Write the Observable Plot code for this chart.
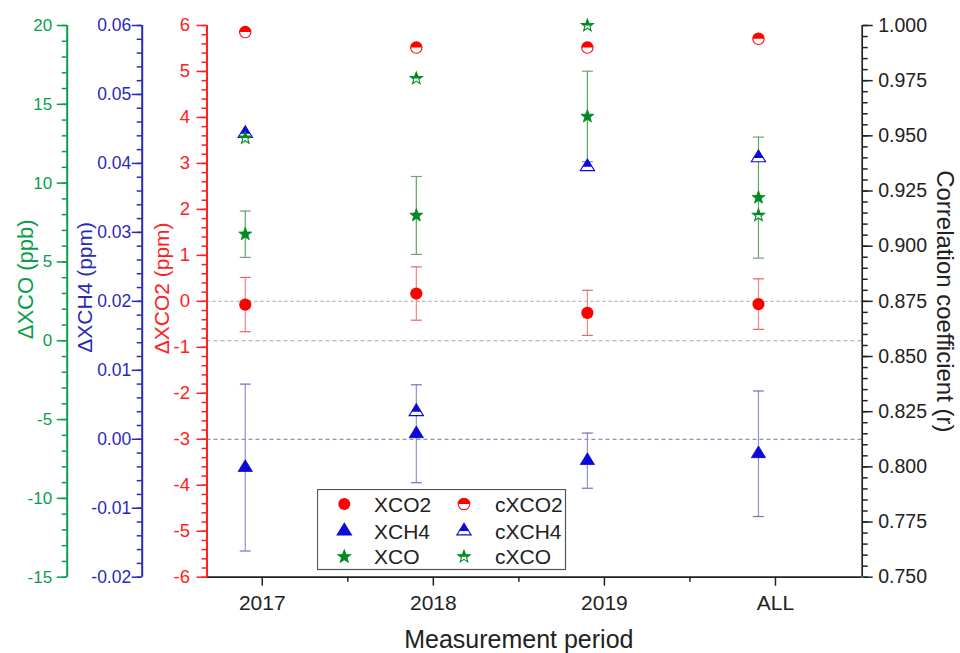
<!DOCTYPE html>
<html><head><meta charset="utf-8">
<script src="https://cdn.jsdelivr.net/npm/d3@7"></script>
<script src="https://cdn.jsdelivr.net/npm/@observablehq/plot@0.6"></script>
<style>
body{margin:0;background:#fff;}
#wrap{position:relative;width:960px;height:653px;font-family:'Liberation Sans',Arial,sans-serif;}
</style></head><body><div id="wrap"></div>
<script>
// ---------- data ----------
const periods = ["2017", "2018", "2019", "ALL"];
const xco2    = [-0.07, 0.17, -0.25, -0.06];      // ΔXCO2 (ppm)
const xco2Err = [0.59, 0.58, 0.49, 0.55];
const xch4    = [-0.0041, 0.0008, -0.0031, -0.0021]; // ΔXCH4 (ppm)
const xch4Err = [0.0121, 0.0071, 0.0040, 0.0091];
const xco     = [6.76, 7.95, 14.23, 9.08];        // ΔXCO (ppb)
const xcoErr  = [1.47, 2.47, 2.87, 3.84];
const rXco2   = [0.997, 0.990, 0.990, 0.994];     // correlation coefficient
const rXch4   = [0.951, 0.825, 0.936, 0.940];
const rXco    = [0.949, 0.976, 1.000, 0.914];

const co2Domain = [-6, 6];
const ch4Domain = [-0.02, 0.06];
const coDomain  = [-15, 20];
const rDomain   = [0.75, 1.0];
const co2Ticks = [-6,-5,-4,-3,-2,-1,0,1,2,3,4,5,6];
const ch4Ticks = [-0.02,-0.01,0,0.01,0.02,0.03,0.04,0.05,0.06];
const coTicks  = [-15,-10,-5,0,5,10,15,20];
const rTicks   = [0.75,0.775,0.8,0.825,0.85,0.875,0.9,0.925,0.95,0.975,1.0];

// ---------- styles ----------
const RED = "#ff2020", BLUE = "#2a2ab8", GREEN = "#0a9e4c", DARK = "#222";
const mRed = "#ff0000", mBlue = "#0a0ad8", mGreen = "#008a22";
const W = 960, H = 653, mL = 206.5, mR = 98.3, mT = 25, mB = 76.3;
const xDomain = [0.677, 4.507];
const dxPt = -17;

// secondary axes mapped onto the primary (ΔXCO2) scale
const ch4ToY = d3.scaleLinear(ch4Domain, co2Domain);
const coToY  = d3.scaleLinear(coDomain, co2Domain);
const rToY   = d3.scaleLinear(rDomain, co2Domain);

const table = periods.map((p, i) => ({
  pos: i + 1,
  co2: xco2[i], co2Lo: xco2[i] - xco2Err[i], co2Hi: xco2[i] + xco2Err[i],
  ch4: ch4ToY(xch4[i]), ch4Lo: ch4ToY(xch4[i] - xch4Err[i]), ch4Hi: ch4ToY(xch4[i] + xch4Err[i]),
  co: coToY(xco[i]), coLo: coToY(xco[i] - xcoErr[i]), coHi: coToY(xco[i] + xcoErr[i]),
  rco2: rToY(rXco2[i]), rch4: rToY(rXch4[i]), rco: rToY(rXco[i])
}));

// ---------- custom symbols ----------
function clipTop(pts) {
  const out = [];
  for (let i = 0; i < pts.length; i++) {
    const a = pts[i], b = pts[(i + 1) % pts.length];
    const ain = a[1] <= 0, bin = b[1] <= 0;
    if (ain) out.push(a);
    if (ain !== bin) { const t = a[1] / (a[1] - b[1]); out.push([a[0] + t * (b[0] - a[0]), 0]); }
  }
  return out;
}
function polySymbol(fn, half) {
  return {draw(ctx, size) {
    const R = Math.sqrt(size / Math.PI);
    let p = fn(R); if (half) p = clipTop(p);
    ctx.moveTo(p[0][0], p[0][1]);
    for (let i = 1; i < p.length; i++) ctx.lineTo(p[i][0], p[i][1]);
    ctx.closePath();
  }};
}
const triPts = R => { const w = 1.1 * R, h = 1.8 * R; return [[0, -2 * h / 3], [w, h / 3], [-w, h / 3]]; };
const starPts = R => { const ro = 1.2 * R, ri = ro * 0.42, p = [];
  for (let k = 0; k < 10; k++) { const a = -Math.PI / 2 + k * Math.PI / 5, r = k % 2 ? ri : ro; p.push([r * Math.cos(a), r * Math.sin(a)]); }
  return p; };
const symTri = polySymbol(triPts, false), symTriHalf = polySymbol(triPts, true);
const symStar = polySymbol(starPts, false), symStarHalf = polySymbol(starPts, true);
const symCircle = {draw(ctx, size) { const R = Math.sqrt(size / Math.PI); ctx.moveTo(R, 0); ctx.arc(0, 0, R, 0, 2 * Math.PI); ctx.closePath(); }};
const symCircleHalf = {draw(ctx, size) { const R = Math.sqrt(size / Math.PI); ctx.moveTo(-R, 0); ctx.arc(0, 0, R, Math.PI, 2 * Math.PI); ctx.closePath(); }};
const symCap = {draw(ctx, size) { const R = Math.sqrt(size / Math.PI); ctx.moveTo(-R, 0); ctx.lineTo(R, 0); }};

const hy = s => s.replace("\u2212", "-");
const minorRange = (d, step) => d3.range(d[0], d[1] + step / 2, step);

function errMarks(lo, hi, color, capColor) {
  return [
    Plot.ruleX(table, {x: "pos", y1: lo, y2: hi, stroke: color, strokeWidth: 1.2, dx: dxPt}),
    Plot.dot(table, {x: "pos", y: lo, symbol: symCap, r: 5.5, stroke: capColor, strokeWidth: 1.2, fill: "none", dx: dxPt}),
    Plot.dot(table, {x: "pos", y: hi, symbol: symCap, r: 5.5, stroke: capColor, strokeWidth: 1.2, fill: "none", dx: dxPt})
  ];
}

const chart = Plot.plot({
  width: W, height: H,
  marginLeft: mL, marginRight: mR, marginTop: mT, marginBottom: mB,
  style: {fontFamily: "'Liberation Sans', Arial, sans-serif", fontSize: "18px", background: "white", overflow: "visible"},
  x: {type: "linear", domain: xDomain},
  y: {type: "linear", domain: co2Domain},
  marks: [
    // reference zero lines
    Plot.ruleY([0], {stroke: "#b4b4b4", strokeWidth: 1.3, strokeDasharray: "3,3"}),
    Plot.ruleY([coToY(0)], {stroke: "#8fb4a2", strokeWidth: 1.2, strokeDasharray: "4,3"}),
    Plot.ruleY([ch4ToY(0)], {stroke: "#8d93b6", strokeWidth: 1.3, strokeDasharray: "4,3"}),
    // error bars
    ...errMarks("co2Lo", "co2Hi", "#f38585", "#e06a6a"),
    ...errMarks("ch4Lo", "ch4Hi", "#9090d4", "#7070c0"),
    ...errMarks("coLo", "coHi", "#55aa5f", "#7d9a85"),
    // measured differences
    Plot.dot(table, {x: "pos", y: "co2", symbol: symCircle, r: 6.1, fill: mRed, dx: dxPt}),
    Plot.dot(table, {x: "pos", y: "ch4", symbol: symTri, r: 6.5, fill: mBlue, stroke: mBlue, strokeWidth: 0.8, dx: dxPt}),
    Plot.dot(table, {x: "pos", y: "co", symbol: symStar, r: 5.7, fill: mGreen, stroke: mGreen, strokeWidth: 0.8, dx: dxPt}),
    // correlation coefficients (half-filled)
    Plot.dot(table, {x: "pos", y: "rco2", symbol: symCircle, r: 5.7, fill: "white", stroke: mRed, strokeWidth: 1.1, dx: dxPt}),
    Plot.dot(table, {x: "pos", y: "rco2", symbol: symCircleHalf, r: 5.7, fill: mRed, dx: dxPt}),
    Plot.dot(table, {x: "pos", y: "rch4", symbol: symTri, r: 6.5, fill: "white", stroke: mBlue, strokeWidth: 1.1, dx: dxPt}),
    Plot.dot(table, {x: "pos", y: "rch4", symbol: symTriHalf, r: 6.5, fill: mBlue, dx: dxPt}),
    Plot.dot(table, {x: "pos", y: "rco", symbol: symStar, r: 5.3, fill: "white", stroke: mGreen, strokeWidth: 1.1, dx: dxPt}),
    Plot.dot(table, {x: "pos", y: "rco", symbol: symStarHalf, r: 5.3, fill: mGreen, dx: dxPt}),
    // axis lines
    Plot.ruleY([co2Domain[0]], {stroke: DARK, strokeWidth: 1.7}),
    Plot.ruleX([xDomain[1]], {stroke: DARK, strokeWidth: 1.7}),
    Plot.ruleX([xDomain[0]], {stroke: RED, strokeWidth: 2}),
    Plot.ruleX([xDomain[0]], {stroke: BLUE, strokeWidth: 2, dx: -64.8}),
    Plot.ruleX([xDomain[0]], {stroke: GREEN, strokeWidth: 2, dx: -139.8}),
    // red ΔXCO2 axis
    Plot.axisY(minorRange(co2Domain, 0.2), {anchor: "left", stroke: RED, fill: "none", tickSize: 5, strokeWidth: 1.5, label: null}),
    Plot.axisY(co2Ticks, {anchor: "left", color: RED, tickSize: 10, tickPadding: 7, strokeWidth: 1.5, fontSize: 18.5, tickFormat: d => hy(String(d)), label: null}),
    // blue ΔXCH4 axis
    Plot.axisY(minorRange(ch4Domain, 0.002).map(ch4ToY), {anchor: "left", dx: -64.8, stroke: BLUE, fill: "none", tickSize: 5, strokeWidth: 1.5, label: null}),
    Plot.axisY(ch4Ticks.map(ch4ToY), {anchor: "left", dx: -64.8, color: BLUE, tickSize: 10, tickPadding: 1, strokeWidth: 1.5, fontSize: 17.5, tickFormat: d => hy(d3.format(".2f")(ch4ToY.invert(d))), label: null}),
    // green ΔXCO axis
    Plot.axisY(minorRange(coDomain, 1).map(coToY), {anchor: "left", dx: -139.8, stroke: GREEN, fill: "none", tickSize: 5, strokeWidth: 1.5, label: null}),
    Plot.axisY(coTicks.map(coToY), {anchor: "left", dx: -139.8, color: GREEN, tickSize: 10, tickPadding: 5, strokeWidth: 1.5, fontSize: 17, tickFormat: d => hy(String(Math.round(coToY.invert(d)))), label: null}),
    // right correlation axis
    Plot.axisY(minorRange(rDomain, 0.005).map(rToY), {anchor: "right", stroke: DARK, fill: "none", tickSize: 5, strokeWidth: 1.5, label: null}),
    Plot.axisY(rTicks.map(rToY), {anchor: "right", color: DARK, tickSize: 10, tickPadding: 6, strokeWidth: 1.5, fontSize: 19.5, tickFormat: d => d3.format(".3f")(rToY.invert(d)), label: null}),
    // bottom axis
    Plot.axisX(d3.range(1.5, periods.length, 1), {anchor: "bottom", stroke: DARK, fill: "none", tickSize: 5, strokeWidth: 1.5, label: null}),
    Plot.axisX(periods.map((p, i) => i + 1), {anchor: "bottom", color: DARK, tickSize: 9, tickPadding: 9, strokeWidth: 1.5, fontSize: 21, tickFormat: d => periods[Math.round(d) - 1], label: null}),
    // axis titles
    Plot.text(["\u0394XCO (ppb)"], {frameAnchor: "left", rotate: -90, dx: 25 - mL, dy: -22, fill: GREEN, fontSize: 22, textAnchor: "middle", lineAnchor: "middle"}),
    Plot.text(["\u0394XCH4 (ppm)"], {frameAnchor: "left", rotate: -90, dx: 85 - mL, dy: -14, fill: BLUE, fontSize: 21, textAnchor: "middle", lineAnchor: "middle"}),
    Plot.text(["\u0394XCO2 (ppm)"], {frameAnchor: "left", rotate: -90, dx: 161.5 - mL, dy: -13, fill: RED, fontSize: 21, textAnchor: "middle", lineAnchor: "middle"}),
    Plot.text(["Correlation coefficient (r)"], {frameAnchor: "right", rotate: 90, dx: 944 - (W - mR), dy: 0, fill: DARK, fontSize: 24, textAnchor: "middle", lineAnchor: "middle"}),
    Plot.text(["Measurement period"], {frameAnchor: "bottom", dx: 518.3 - (mL + (W - mR)) / 2, dy: 639 - (H - mB), fill: DARK, fontSize: 25, textAnchor: "middle", lineAnchor: "middle"})
  ]
});
document.getElementById("wrap").appendChild(chart);

// ---------- legend (overlay) ----------
const legendItems = [
  {label: "XCO2",  col: 0, row: 0, parts: [{sym: symCircle, r: 6, fill: mRed, stroke: "none"}]},
  {label: "XCH4",  col: 0, row: 1, parts: [{sym: symTri, r: 6.5, fill: mBlue, stroke: mBlue}]},
  {label: "XCO",   col: 0, row: 2, parts: [{sym: symStar, r: 5.5, fill: mGreen, stroke: mGreen}]},
  {label: "cXCO2", col: 1, row: 0, parts: [{sym: symCircle, r: 5.8, fill: "white", stroke: mRed}, {sym: symCircleHalf, r: 5.8, fill: mRed, stroke: "none"}]},
  {label: "cXCH4", col: 1, row: 1, parts: [{sym: symTri, r: 6.5, fill: "white", stroke: mBlue}, {sym: symTriHalf, r: 6.5, fill: mBlue, stroke: "none"}]},
  {label: "cXCO",  col: 1, row: 2, parts: [{sym: symStar, r: 5.3, fill: "white", stroke: mGreen}, {sym: symStarHalf, r: 5.3, fill: mGreen, stroke: "none"}]}
];
const leg = d3.select("#wrap").append("svg")
  .attr("width", 250).attr("height", 82)
  .style("position", "absolute").style("left", "317px").style("top", "489px")
  .style("font-family", "'Liberation Sans', Arial, sans-serif");
leg.append("rect").attr("x", 0.5).attr("y", 0.5).attr("width", 248).attr("height", 80)
  .attr("fill", "white").attr("stroke", "#555").attr("stroke-width", 1.2);
const rowY = [15, 42, 67.7], colMark = [27.3, 147], colText = [57, 178];
for (const it of legendItems) {
  const g = leg.append("g").attr("transform", `translate(${colMark[it.col]},${rowY[it.row]})`);
  for (const p of it.parts) {
    g.append("path").attr("d", d3.symbol(p.sym, p.r * p.r * Math.PI)())
      .attr("fill", p.fill).attr("stroke", p.stroke).attr("stroke-width", 1.1);
  }
  leg.append("text").attr("x", colText[it.col]).attr("y", rowY[it.row])
    .attr("dy", "0.36em").attr("font-size", 21).attr("fill", DARK).text(it.label);
}
</script></body></html>
